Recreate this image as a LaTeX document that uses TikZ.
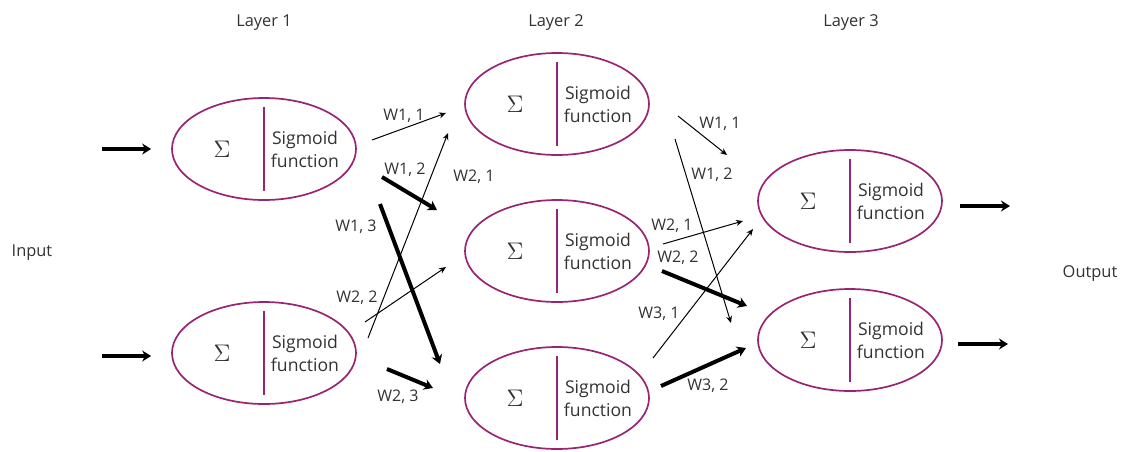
\documentclass[tikz,border=0pt]{standalone}
\usepackage{fontspec}
\setmainfont{Open Sans}
\usepackage{tikz}
\usetikzlibrary{arrows.meta,shapes.geometric}
\definecolor{neuronpurple}{RGB}{152,36,115}
\definecolor{textgray}{RGB}{50,50,50}

\begin{document}
\begin{tikzpicture}[x=0.5pt,y=-0.5pt,semithick,
  neuron/.style={ellipse,draw=neuronpurple,line width=0.85pt,minimum width=92pt,minimum height=51pt,inner sep=0pt},
  thinw/.style={-{Stealth[length=3.5pt,width=3pt]},line width=0.5pt},
  thickw/.style={-{Stealth[length=4.5pt,width=5.5pt]},line width=2pt},
  wlabel/.style={font=\fontsize{8}{9.6}\selectfont,text=textgray,inner sep=1pt},
  title/.style={font=\fontsize{8.2}{10}\selectfont,text=textgray}]
\useasboundingbox (0,0) rectangle (1124,451);

  % layer titles
  \node[title] (t1) at (264,23) {Layer 1};
  \node[title] (t2) at (556,23) {Layer 2};
  \node[title] (t3) at (851,23) {Layer 3};
  \node[title] (in)  at (32,253)   {Input};
  \node[title] (out) at (1090,274) {Output};

  % neurons
  \node[neuron] (a1) at (264,149) {};
  \node[neuron] (a2) at (264,353) {};
  \node[neuron] (b1) at (557,104) {};
  \node[neuron] (b2) at (557,251) {};
  \node[neuron] (b3) at (557,398) {};
  \node[neuron] (c1) at (850,201) {};
  \node[neuron] (c2) at (850,340) {};

  \foreach \n in {a1,a2,b1,b2,b3,c1,c2} {
    \draw[neuronpurple,line width=0.55pt] ([yshift=21pt]\n.center) -- ([yshift=-21pt]\n.center);
    \node[text=textgray,font=\large] (\n s) at ([xshift=-21pt]\n.center) {$\Sigma$};
    \node[align=center,text=textgray,font=\fontsize{8.8}{11.5}\selectfont] (\n f) at ([xshift=20.5pt]\n.center) {Sigmoid\\function};
  }

  % inputs and outputs
  \coordinate (i1) at (102,149);
  \coordinate (i2) at (102,356);
  \coordinate (o1) at (1010,206);
  \coordinate (o2) at (1008,344);
  \draw[thickw] (i1) -- ([xshift=-10pt]a1.west);
  \draw[thickw] (i2) -- ([xshift=-10pt,yshift=-1.5pt]a2.west);
  \draw[thickw] ([xshift=8.5pt,yshift=-2.5pt]c1.east) -- (o1);
  \draw[thickw] ([xshift=7.5pt,yshift=-2pt]c2.east) -- (o2);

  % weights layer 1 -> layer 2
  \coordinate (w11a) at (372,140); \coordinate (w11b) at (446,113);
  \coordinate (w12a) at (382,177); \coordinate (w12b) at (437,210);
  \coordinate (w13a) at (380,204); \coordinate (w13b) at (440,364);
  \coordinate (w21a) at (368,338); \coordinate (w21b) at (448,133);
  \coordinate (w22a) at (365,322); \coordinate (w22b) at (446,267);
  \coordinate (w23a) at (387,369); \coordinate (w23b) at (433,388);

  \draw[thinw]  (w11a) -- (w11b);
  \draw[thickw] (w12a) -- (w12b);
  \draw[thickw] (w13a) -- (w13b);
  \draw[thinw]  (w21a) -- (w21b);
  \draw[thinw]  (w22a) -- (w22b);
  \draw[thickw] (w23a) -- (w23b);

  \node[wlabel] (lw11) at (404,116) {W1, 1};
  \node[wlabel] (lw12) at (405,170) {W1, 2};
  \node[wlabel] (lw13) at (356,227) {W1, 3};
  \node[wlabel] (lw21) at (474,177) {W2, 1};
  \node[wlabel] (lw22) at (357,298) {W2, 2};
  \node[wlabel] (lw23) at (398,397) {W2, 3};

  % weights layer 2 -> layer 3
  \coordinate (v11a) at (678,116); \coordinate (v11b) at (727,155);
  \coordinate (v12a) at (675,139); \coordinate (v12b) at (731,323);
  \coordinate (v21a) at (663,244); \coordinate (v21b) at (743,221);
  \coordinate (v22a) at (662,271); \coordinate (v22b) at (747,306);
  \coordinate (v31a) at (653,358); \coordinate (v31b) at (753,229);
  \coordinate (v32a) at (661,386); \coordinate (v32b) at (746,348);

  \draw[thinw]  (v11a) -- (v11b);
  \draw[thinw]  (v12a) -- (v12b);
  \draw[thinw]  (v21a) -- (v21b);
  \draw[thickw] (v22a) -- (v22b);
  \draw[thinw]  (v31a) -- (v31b);
  \draw[thickw] (v32a) -- (v32b);

  \node[wlabel] (lv11) at (720,124) {W1, 1};
  \node[wlabel] (lv12) at (712,175) {W1, 2};
  \node[wlabel] (lv21) at (672,226) {W2, 1};
  \node[wlabel] (lv22) at (678,258) {W2, 2};
  \node[wlabel] (lv31) at (659,314) {W3, 1};
  \node[wlabel] (lv32) at (708,386) {W3, 2};
\end{tikzpicture}
\end{document}
